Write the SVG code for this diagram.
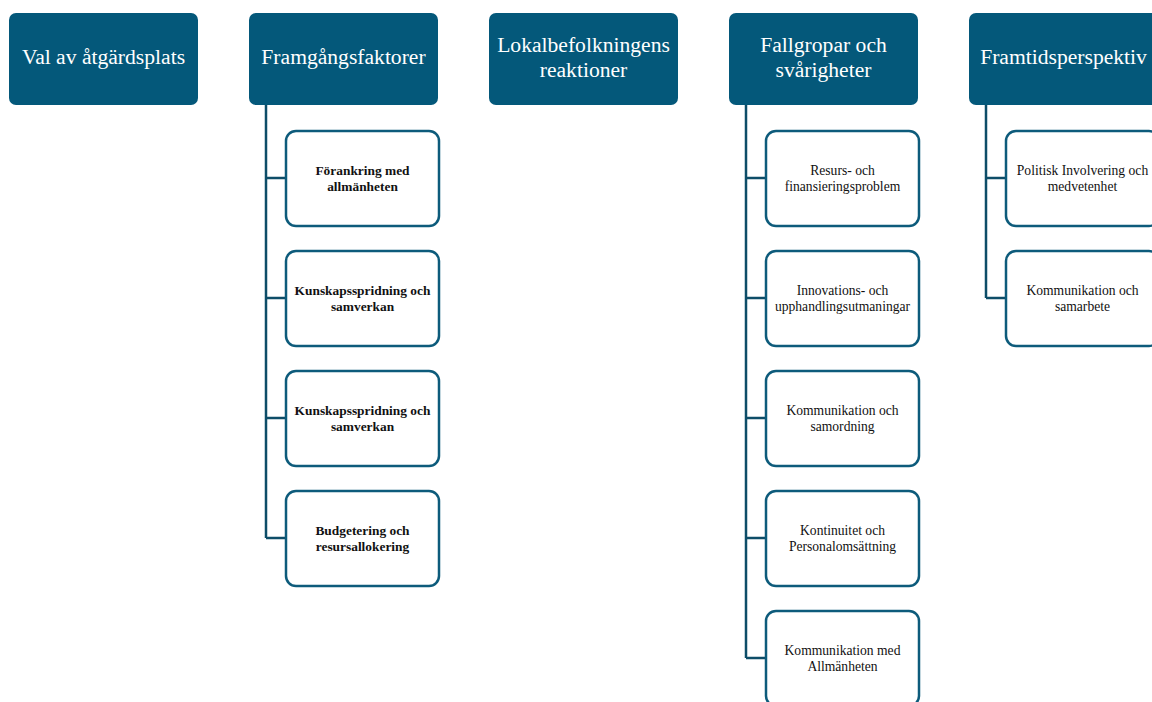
<svg xmlns="http://www.w3.org/2000/svg" width="1152" height="702" viewBox="0 0 1152 702">
<style>
.hdr{fill:#04587A;}
.ht{fill:#ffffff;font-family:"Liberation Serif","Times New Roman","DejaVu Serif",serif;font-size:21.6px;text-anchor:middle;}
.ch{fill:#ffffff;stroke:#0D5B7B;stroke-width:2.5;}
.ct{fill:#111111;font-family:"Liberation Serif","Times New Roman","DejaVu Serif",serif;font-size:13.6px;text-anchor:middle;}
.b{font-weight:bold;font-size:13.4px;}
.con{fill:none;stroke:#0D4D68;stroke-width:2.5;}
</style>
<rect width="1152" height="702" fill="#ffffff"/>
<g id="connectors">
<path class="con" d="M266 105V538M266 178H285M266 298H285M266 418H285M266 538H285"/>
<path class="con" d="M746 105V658M746 178H765M746 298H765M746 418H765M746 538H765M746 658H765"/>
<path class="con" d="M986 105V298M986 178H1005M986 298H1005"/>
</g>
<g id="h1"><rect class="hdr" x="9" y="13" width="189" height="92" rx="7"/><text class="ht" x="103.5" y="64">Val av åtgärdsplats</text></g>
<g id="h2"><rect class="hdr" x="249" y="13" width="189" height="92" rx="7"/><text class="ht" x="343.5" y="64">Framgångsfaktorer</text></g>
<g id="h3"><rect class="hdr" x="489" y="13" width="189" height="92" rx="7"/><text class="ht" x="583.5" y="52">Lokalbefolkningens</text><text class="ht" x="583.5" y="77">reaktioner</text></g>
<g id="h4"><rect class="hdr" x="729" y="13" width="189" height="92" rx="7"/><text class="ht" x="823.5" y="52">Fallgropar och</text><text class="ht" x="823.5" y="77">svårigheter</text></g>
<g id="h5"><rect class="hdr" x="969" y="13" width="189" height="92" rx="7"/><text class="ht" x="1063.5" y="64">Framtidsperspektiv</text></g>

<g id="c2a"><rect class="ch" x="286" y="131" width="153" height="95" rx="10"/><text class="ct b" x="362.5" y="175">Förankring med</text><text class="ct b" x="362.5" y="191">allmänheten</text></g>
<g id="c2b"><rect class="ch" x="286" y="251" width="153" height="95" rx="10"/><text class="ct b" x="362.5" y="295">Kunskapsspridning och</text><text class="ct b" x="362.5" y="311">samverkan</text></g>
<g id="c2c"><rect class="ch" x="286" y="371" width="153" height="95" rx="10"/><text class="ct b" x="362.5" y="415">Kunskapsspridning och</text><text class="ct b" x="362.5" y="431">samverkan</text></g>
<g id="c2d"><rect class="ch" x="286" y="491" width="153" height="95" rx="10"/><text class="ct b" x="362.5" y="535">Budgetering och</text><text class="ct b" x="362.5" y="551">resursallokering</text></g>

<g id="c4a"><rect class="ch" x="766" y="131" width="153" height="95" rx="10"/><text class="ct" x="842.5" y="175">Resurs- och</text><text class="ct" x="842.5" y="191">finansieringsproblem</text></g>
<g id="c4b"><rect class="ch" x="766" y="251" width="153" height="95" rx="10"/><text class="ct" x="842.5" y="295">Innovations- och</text><text class="ct" x="842.5" y="311">upphandlingsutmaningar</text></g>
<g id="c4c"><rect class="ch" x="766" y="371" width="153" height="95" rx="10"/><text class="ct" x="842.5" y="415">Kommunikation och</text><text class="ct" x="842.5" y="431">samordning</text></g>
<g id="c4d"><rect class="ch" x="766" y="491" width="153" height="95" rx="10"/><text class="ct" x="842.5" y="535">Kontinuitet och</text><text class="ct" x="842.5" y="551">Personalomsättning</text></g>
<g id="c4e"><rect class="ch" x="766" y="611" width="153" height="95" rx="10"/><text class="ct" x="842.5" y="655">Kommunikation med</text><text class="ct" x="842.5" y="671">Allmänheten</text></g>

<g id="c5a"><rect class="ch" x="1006" y="131" width="153" height="95" rx="10"/><text class="ct" x="1082.5" y="175">Politisk Involvering och</text><text class="ct" x="1082.5" y="191">medvetenhet</text></g>
<g id="c5b"><rect class="ch" x="1006" y="251" width="153" height="95" rx="10"/><text class="ct" x="1082.5" y="295">Kommunikation och</text><text class="ct" x="1082.5" y="311">samarbete</text></g>
</svg>
